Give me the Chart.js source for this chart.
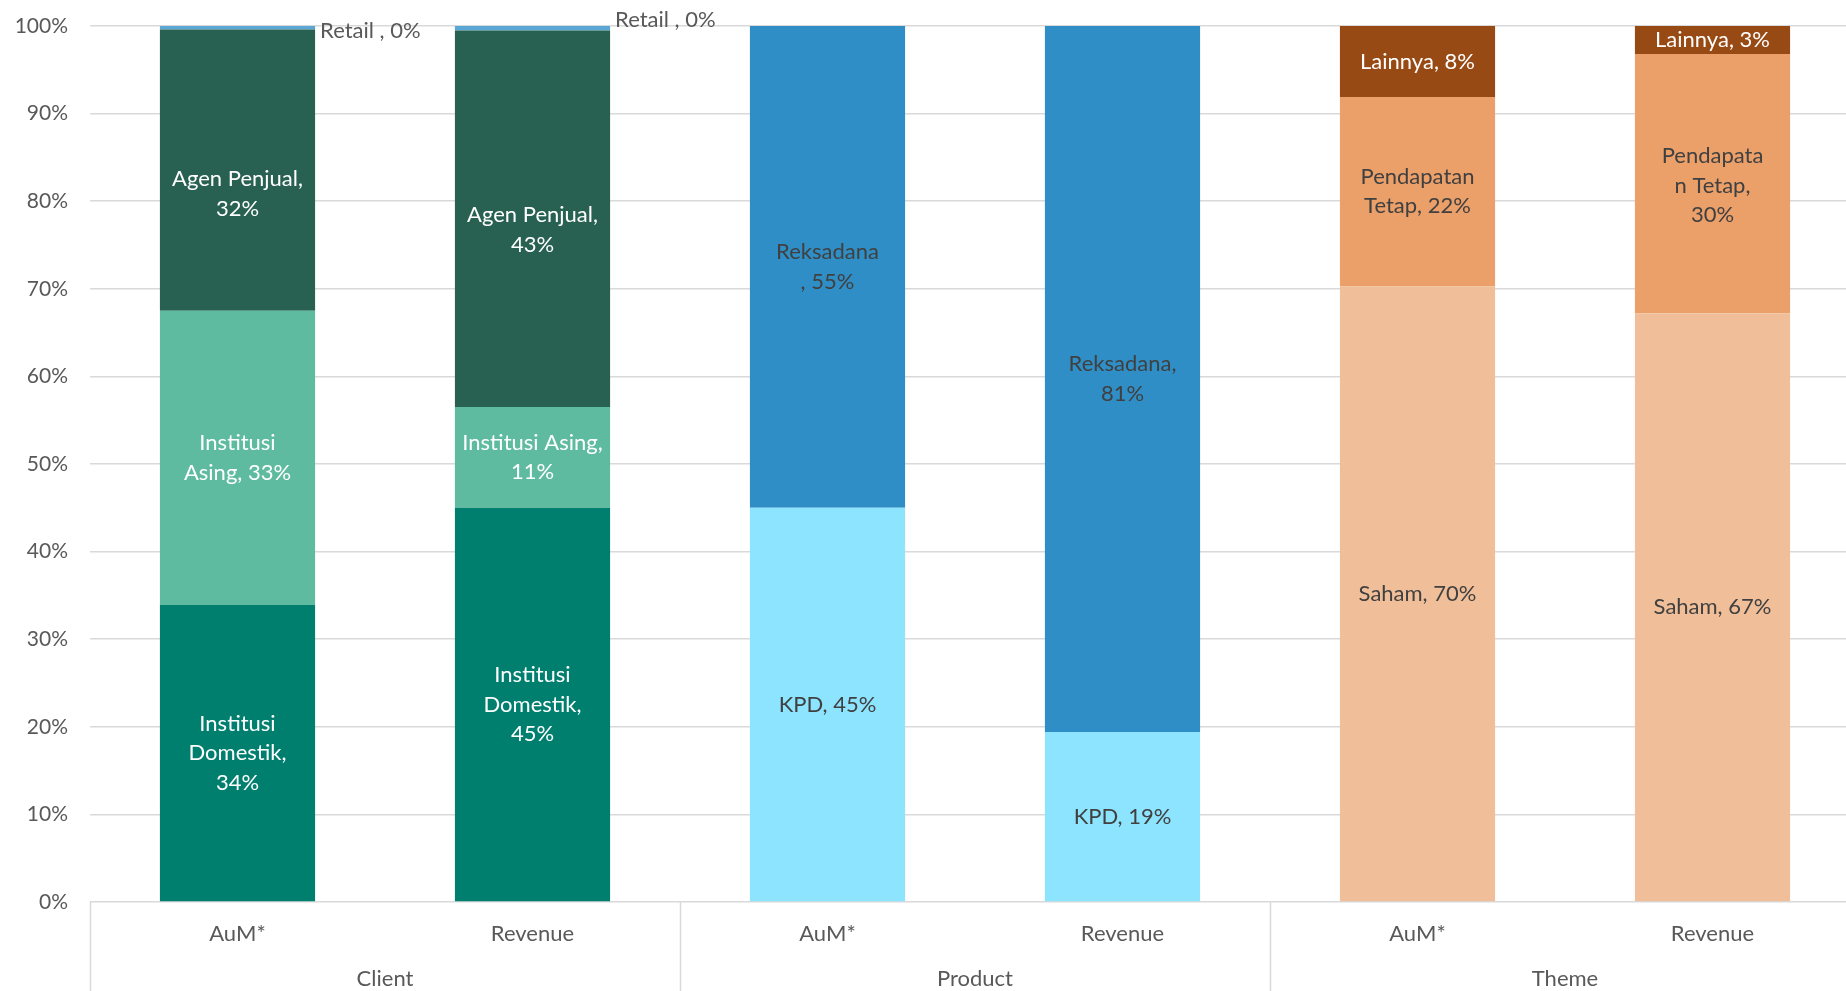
<!DOCTYPE html>
<html>
<head>
<meta charset="utf-8">
<script src="https://cdn.jsdelivr.net/npm/chart.js@4/dist/chart.umd.min.js"></script>
<style>
  html, body { margin: 0; padding: 0; background: #ffffff; overflow: hidden; }
  #wrap { width: 1860px; height: 991px; }
</style>
</head>
<body>
<div id="wrap"><canvas id="c" width="1860" height="991"></canvas></div>
<script>
// ---- data ----
const categories = ["AuM*", "Revenue", "AuM*", "Revenue", "AuM*", "Revenue"];
const groups = ["Client", "Product", "Theme"];
const yTicks = [0, 10, 20, 30, 40, 50, 60, 70, 80, 90, 100];

const institusiDomestik = [33.9, 45.0, null, null, null, null];
const institusiAsing    = [33.6, 11.5, null, null, null, null];
const agenPenjual       = [32.1, 43.0, null, null, null, null];
const retail            = [0.4, 0.5, null, null, null, null];
const kpd               = [null, null, 45.0, 19.4, null, null];
const reksadana         = [null, null, 55.0, 80.6, null, null];
const saham             = [null, null, null, null, 70.3, 67.2];
const pendapatanTetap   = [null, null, null, null, 21.6, 29.6];
const lainnya           = [null, null, null, null, 8.1, 3.2];

const lblDomestik  = ["Institusi\nDomestik,\n34%", "Institusi\nDomestik,\n45%", null, null, null, null];
const lblAsing     = ["Institusi\nAsing, 33%", "Institusi Asing,\n11%", null, null, null, null];
const lblAgen      = ["Agen Penjual,\n32%", "Agen Penjual,\n43%", null, null, null, null];
const lblRetail    = ["Retail , 0%", "Retail , 0%", null, null, null, null];
const lblKpd       = [null, null, "KPD, 45%", "KPD, 19%", null, null];
const lblReksadana = [null, null, "Reksadana\n, 55%", "Reksadana,\n81%", null, null];
const lblSaham     = [null, null, null, null, "Saham, 70%", "Saham, 67%"];
const lblPendapatan= [null, null, null, null, "Pendapatan\nTetap, 22%", "Pendapata\nn Tetap,\n30%"];
const lblLainnya   = [null, null, null, null, "Lainnya, 8%", "Lainnya, 3%"];

// ---- styles ----
const FONT = "Lato, 'Open Sans', sans-serif";
const FS = 22;
const FS_Y = 21;
const LINE_H = 29.5;
const DARK = "#404040";
const AXIS = "#595959";

function ds(label, data, color, labels, textColor, extra) {
  return Object.assign({
    label, data, backgroundColor: color, borderWidth: 0,
    segLabels: labels, segColor: textColor, segDy: null, outside: false
  }, extra || {});
}

const datasets = [
  ds("Institusi Domestik", institusiDomestik, "#007F6F", lblDomestik, "#ffffff"),
  ds("Institusi Asing", institusiAsing, "#5EBBA0", lblAsing, "#ffffff"),
  ds("Agen Penjual", agenPenjual, "#286052", lblAgen, "#ffffff", { segDy: [24, 11] }),
  ds("Retail", retail, "#5AA7D6", lblRetail, AXIS, { outside: true, outsideDy: [5, -6] }),
  ds("KPD", kpd, "#8DE4FF", lblKpd, DARK),
  ds("Reksadana", reksadana, "#2F8EC5", lblReksadana, DARK),
  ds("Saham", saham, "#F0BE98", lblSaham, DARK),
  ds("Pendapatan Tetap", pendapatanTetap, "#EB9F69", lblPendapatan, DARK, { segDy: [0, 2] }),
  ds("Lainnya", lainnya, "#984A15", lblLainnya, "#ffffff"),
];

const segLabelPlugin = {
  id: "segLabels",
  afterDatasetsDraw(chart) {
    const ctx = chart.ctx;
    ctx.save();
    ctx.font = `${FS}px ${FONT}`;
    chart.data.datasets.forEach((d, di) => {
      const meta = chart.getDatasetMeta(di);
      meta.data.forEach((bar, i) => {
        const txt = d.segLabels[i];
        if (!txt || d.data[i] == null) return;
        const p = bar.getProps(["x", "y", "base", "width"], true);
        const lines = txt.split("\n");
        ctx.fillStyle = d.segColor;
        ctx.textBaseline = "middle";
        if (d.outside) {
          ctx.textAlign = "left";
          const x = p.x + p.width / 2 + 5;
          const y = Math.min(p.y, p.base) + d.outsideDy[i];
          ctx.fillText(lines[0], x, y);
        } else {
          ctx.textAlign = "center";
          const dy = d.segDy ? (d.segDy[i % 2] || 0) : 0;
          const cy = (p.y + p.base) / 2 + dy;
          const start = cy - (lines.length - 1) * LINE_H / 2;
          lines.forEach((ln, k) => ctx.fillText(ln, p.x, start + k * LINE_H));
        }
      });
    });
    ctx.restore();
  }
};

const groupAxisPlugin = {
  id: "groupAxis",
  afterDraw(chart) {
    const ctx = chart.ctx;
    const xs = chart.scales.x;
    const area = chart.chartArea;
    const step = xs.getPixelForValue(1) - xs.getPixelForValue(0);
    ctx.save();
    ctx.strokeStyle = "#D9D9D9";
    ctx.lineWidth = 1.5;
    for (let g = 0; g <= groups.length; g++) {
      const bx = xs.getPixelForValue(g * 2) - step / 2;
      ctx.beginPath();
      ctx.moveTo(Math.round(bx) + 0.5, area.bottom);
      ctx.lineTo(Math.round(bx) + 0.5, chart.height);
      ctx.stroke();
    }
    ctx.fillStyle = AXIS;
    ctx.font = `${FS}px ${FONT}`;
    ctx.textAlign = "center";
    ctx.textBaseline = "middle";
    groups.forEach((gname, g) => {
      const cx = (xs.getPixelForValue(g * 2) + xs.getPixelForValue(g * 2 + 1)) / 2;
      ctx.fillText(gname, cx, area.bottom + 77);
    });
    ctx.restore();
  }
};

new Chart(document.getElementById("c"), {
  type: "bar",
  data: { labels: categories, datasets },
  plugins: [segLabelPlugin, groupAxisPlugin],
  options: {
    responsive: false,
    animation: false,
    layout: { padding: { top: 26, left: 0, right: 0, bottom: 0 } },
    plugins: { legend: { display: false }, tooltip: { enabled: false } },
    datasets: { bar: { categoryPercentage: 1.0, barPercentage: 0.526 } },
    scales: {
      x: {
        stacked: true,
        grid: { display: false },
        border: { display: false },
        ticks: { color: AXIS, font: { family: FONT, size: FS }, padding: 11, maxRotation: 0 },
        afterFit(scale) { scale.height = 89; }
      },
      y: {
        stacked: true,
        min: 0, max: 100,
        afterBuildTicks(scale) { scale.ticks = yTicks.map(v => ({ value: v })); },
        grid: { color: "#D9D9D9", lineWidth: 1.5, drawTicks: false },
        border: { display: false },
        ticks: { color: AXIS, font: { family: FONT, size: FS_Y }, padding: 22, callback: v => v + "%" },
        afterFit(scale) { scale.width = 90; scale.paddingTop = 0; scale.paddingBottom = 0; }
      }
    }
  }
});
</script>
</body>
</html>
